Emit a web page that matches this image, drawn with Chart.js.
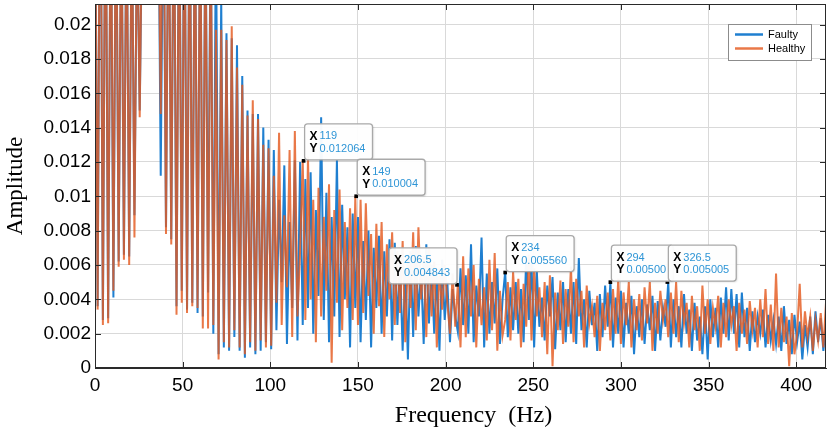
<!DOCTYPE html>
<html>
<head>
<meta charset="utf-8">
<script src="https://cdn.jsdelivr.net/npm/chart.js@4.4.0/dist/chart.umd.min.js"></script>
<style>
  html, body { margin: 0; padding: 0; background: #fff; }
  canvas { display: block; }
</style>
</head>
<body>
<canvas id="spectrumChart" width="832" height="430"></canvas>
<script>
// spacing of the spectrum bins (Hz)
const freqStep = 1.5;

// amplitude, one value per bin (0, 1.5, 3 ... 418.5 Hz)
const faulty = [
  0.031, 0.0036, 0.034, 0.0028, 0.031, 0.0029, 0.029, 0.0041, 0.029, 0.0062,
  0.028, 0.0066, 0.028, 0.0065, 0.027, 0.0089, 0.026, 0.0150, 0.027, 0.032,
  0.030, 0.034, 0.031, 0.033, 0.030, 0.0112, 0.029, 0.0082, 0.030, 0.0075,
  0.029, 0.0036, 0.030, 0.0045, 0.029, 0.0034, 0.030, 0.0038, 0.028, 0.0032,
  0.028, 0.0030, 0.027, 0.0044, 0.027, 0.0020, 0.026, 0.0008, 0.0215, 0.0012,
  0.0195, 0.0010, 0.0192, 0.0018, 0.0188, 0.0010, 0.0170, 0.0006, 0.0150, 0.0012,
  0.0148, 0.0008, 0.0148, 0.0010, 0.0140, 0.0015, 0.0133, 0.0011, 0.0127, 0.0022,
  0.0098, 0.0050, 0.0118, 0.0014, 0.0085, 0.0035, 0.0121, 0.0016, 0.0120, 0.0025,
  0.0110, 0.0035, 0.0114, 0.0020, 0.0092, 0.0042, 0.0146, 0.0028, 0.0102, 0.0015,
  0.0088, 0.0030, 0.0121, 0.0018, 0.0095, 0.0040, 0.0082, 0.0012, 0.0090, 0.0035,
  0.0088, 0.0015, 0.0074, 0.0028, 0.0080, 0.0012, 0.0070, 0.0035, 0.0077, 0.0020,
  0.0068, 0.0030, 0.0075, 0.0016, 0.0073, 0.0025, 0.0062, 0.0010, 0.0058, 0.0005,
  0.0068, 0.0018, 0.0071, 0.0030, 0.0058, 0.0014, 0.0072, 0.0026, 0.0060, 0.0020,
  0.0055, 0.0010, 0.0063, 0.0028, 0.0050, 0.0015, 0.0046, 0.0030, 0.0021, 0.0058,
  0.0025, 0.0054, 0.0020, 0.0072, 0.0015, 0.0048, 0.0030, 0.0076, 0.0012, 0.0055,
  0.0020, 0.0050, 0.0026, 0.0058, 0.0014, 0.0040, 0.0056, 0.0018, 0.0047, 0.0022,
  0.0050, 0.0020, 0.0046, 0.0015, 0.0065, 0.0028, 0.0061, 0.0012, 0.0057, 0.0024,
  0.0041, 0.0016, 0.0048, 0.0030, 0.0053, 0.0011, 0.0044, 0.0022, 0.0050, 0.0015,
  0.0046, 0.0020, 0.0050, 0.0014, 0.0064, 0.0022, 0.0040, 0.0012, 0.0045, 0.0025,
  0.0038, 0.0010, 0.0043, 0.0018, 0.0048, 0.0024, 0.0050, 0.0012, 0.0041, 0.0020,
  0.0045, 0.0012, 0.0038, 0.0020, 0.0042, 0.0008, 0.0036, 0.0018, 0.0040, 0.0014,
  0.0037, 0.0022, 0.0042, 0.0010, 0.0039, 0.0016, 0.0035, 0.0024, 0.0050, 0.0012,
  0.0040, 0.0018, 0.0036, 0.0012, 0.0043, 0.0020, 0.0034, 0.0010, 0.0038, 0.0016,
  0.0030, 0.0008, 0.0036, 0.0005, 0.0040, 0.0018, 0.0035, 0.0012, 0.0041, 0.0020,
  0.0047, 0.0016, 0.0046, 0.0020, 0.0043, 0.0012, 0.0044, 0.0018, 0.0035, 0.0010,
  0.0033, 0.0015, 0.0030, 0.0020, 0.0034, 0.0012, 0.0031, 0.0016, 0.0028, 0.0014,
  0.0030, 0.0010, 0.0036, 0.0014, 0.0028, 0.0008, 0.0031, 0.0015, 0.0027, 0.0005,
  0.0025, 0.0012, 0.0030, 0.0008, 0.0033, 0.0015, 0.0029, 0.0010, 0.0026, 0.0018
];

const healthy = [
  0.030, 0.0034, 0.035, 0.0025, 0.032, 0.0026, 0.030, 0.0045, 0.030, 0.0059,
  0.029, 0.0063, 0.028, 0.0060, 0.028, 0.0076, 0.027, 0.0146, 0.028, 0.033,
  0.030, 0.036, 0.031, 0.034, 0.029, 0.0148, 0.032, 0.0078, 0.030, 0.0072,
  0.031, 0.0031, 0.029, 0.0038, 0.030, 0.0032, 0.029, 0.0036, 0.028, 0.0035,
  0.028, 0.0023, 0.027, 0.0023, 0.026, 0.0025, 0.0197, 0.0005, 0.0197, 0.0015,
  0.0191, 0.0012, 0.0199, 0.0022, 0.0175, 0.0012, 0.0165, 0.0008, 0.0147, 0.0015,
  0.0156, 0.0010, 0.0145, 0.0016, 0.0130, 0.0012, 0.0128, 0.0013, 0.0112, 0.0038,
  0.0137, 0.0025, 0.0089, 0.0047, 0.0127, 0.0018, 0.0138, 0.0030, 0.0068, 0.0121,
  0.0028, 0.0123, 0.0040, 0.0098, 0.0015, 0.0105, 0.0030, 0.0088, 0.0045, 0.0107,
  0.0003, 0.0092, 0.0038, 0.0104, 0.0022, 0.0085, 0.0035, 0.0093, 0.0028, 0.0100,
  0.0025, 0.0098, 0.0032, 0.0096, 0.0042, 0.0078, 0.0020, 0.0084, 0.0036, 0.0085,
  0.0018, 0.0072, 0.0040, 0.0079, 0.0025, 0.0068, 0.0032, 0.0074, 0.0015, 0.0066,
  0.0035, 0.0079, 0.0022, 0.0082, 0.0040, 0.0065, 0.0018, 0.0070, 0.0030, 0.0062,
  0.0012, 0.0058, 0.0034, 0.0060, 0.0038, 0.0020, 0.0055, 0.0024, 0.0049, 0.0012,
  0.0065, 0.0018, 0.0058, 0.0030, 0.0060, 0.0012, 0.0052, 0.0025, 0.0047, 0.0016,
  0.0063, 0.0022, 0.0067, 0.0010, 0.0045, 0.0019, 0.0028, 0.0050, 0.0016, 0.0056,
  0.0028, 0.0052, 0.0012, 0.0049, 0.0024, 0.0066, 0.0016, 0.0058, 0.0030, 0.0047,
  0.0018, 0.0050, 0.0008, 0.0054, 0.0001, 0.0044, 0.0022, 0.0051, 0.0014, 0.0046,
  0.0024, 0.0059, 0.0015, 0.0052, 0.0030, 0.0045, 0.0012, 0.0048, 0.0026, 0.0036,
  0.0018, 0.0042, 0.0010, 0.0038, 0.0022, 0.0044, 0.0016, 0.0046, 0.0020, 0.0052,
  0.0014, 0.0044, 0.0025, 0.0050, 0.0012, 0.0040, 0.0022, 0.0043, 0.0016, 0.0047,
  0.0026, 0.0050, 0.0010, 0.0038, 0.0020, 0.0045, 0.0028, 0.0040, 0.0018, 0.0044,
  0.0020, 0.0050, 0.0015, 0.0045, 0.0026, 0.0038, 0.0012, 0.0042, 0.0022, 0.0036,
  0.0010, 0.0048, 0.0020, 0.0040, 0.0014, 0.0035, 0.0024, 0.0042, 0.0012, 0.0038,
  0.0018, 0.0040, 0.0025, 0.0036, 0.0010, 0.0038, 0.0020, 0.0034, 0.0014, 0.0039,
  0.0022, 0.0035, 0.0012, 0.0040, 0.0018, 0.0046, 0.0014, 0.0037, 0.0010, 0.0055,
  0.0012, 0.0035, 0.0015, 0.0030, 0.0001, 0.0032, 0.0008, 0.0020, 0.0049, 0.0012,
  0.0033, 0.0018, 0.0030, 0.0010, 0.0028, 0.0016, 0.0032, 0.0012, 0.0038, 0.0020
];

const xTickValues = [0, 50, 100, 150, 200, 250, 300, 350, 400];
const yTickValues = [0, 0.002, 0.004, 0.006, 0.008, 0.01, 0.012, 0.014, 0.016, 0.018, 0.02];
const yTickLabels = ['0', '0.002', '0.004', '0.006', '0.008', '0.01', '0.012', '0.014', '0.016', '0.018', '0.02'];

// data tips
const tipFreq = [119, 149, 206.5, 234, 294, 326.5];
const tipAmp = [0.012064, 0.010004, 0.004843, 0.005560, 0.00500, 0.005005];
const tipXText = ['119', '149', '206.5', '234', '294', '326.5'];
const tipYText = ['0.012064', '0.010004', '0.004843', '0.005560', '0.00500', '0.005005'];

const freq = healthy.map((_, i) => i * freqStep);

const BLUE = '#1f7fd0';
const ORANGE = 'rgba(228, 90, 32, 0.82)';

// inward tick marks and the box round the plot
const frameTicks = {
    id: 'frameTicks',
    afterDatasetsDraw(chart) {
        const { ctx, chartArea: a, scales: { x, y } } = chart;
        ctx.save();
        ctx.strokeStyle = '#2a2a2a';
        ctx.lineWidth = 1;
        ctx.strokeRect(a.left + 0.5, a.top + 0.5, a.right - a.left - 1, a.bottom - a.top - 1);
        ctx.beginPath();
        xTickValues.forEach(v => {
            const px = Math.round(x.getPixelForValue(v)) + 0.5;
            ctx.moveTo(px, a.bottom); ctx.lineTo(px, a.bottom - 6);
            ctx.moveTo(px, a.top); ctx.lineTo(px, a.top + 6);
        });
        yTickValues.forEach(v => {
            const py = Math.round(y.getPixelForValue(v)) + 0.5;
            ctx.moveTo(a.left, py); ctx.lineTo(a.left + 6, py);
            ctx.moveTo(a.right, py); ctx.lineTo(a.right - 6, py);
        });
        ctx.stroke();
        ctx.restore();
    }
};

// boxes next to the data tip markers
const dataTips = {
    id: 'dataTips',
    afterDraw(chart, args, opts) {
        const { ctx, scales: { x, y } } = chart;
        ctx.save();
        tipFreq.forEach((f, i) => {
            const px = x.getPixelForValue(f);
            const py = y.getPixelForValue(tipAmp[i]);
            ctx.font = '11px "Liberation Sans", Arial, sans-serif';
            const w = Math.max(ctx.measureText(tipXText[i]).width, ctx.measureText(tipYText[i]).width) + 22;
            const h = 36;
            const left = opts.leftSide.includes(i) ? px - w : px + 1;
            const top = py - 1 - h;

            ctx.shadowColor = 'rgba(0,0,0,0.18)';
            ctx.shadowBlur = 2;
            ctx.shadowOffsetX = 1;
            ctx.shadowOffsetY = 1;
            ctx.fillStyle = 'rgba(255,255,255,0.96)';
            ctx.beginPath();
            ctx.roundRect(left, top, w, h, 3);
            ctx.fill();
            ctx.shadowColor = 'transparent';
            ctx.strokeStyle = '#a9a9a9';
            ctx.lineWidth = 1.3;
            ctx.stroke();

            ctx.textBaseline = 'middle';
            ctx.textAlign = 'left';
            ctx.fillStyle = '#000';
            ctx.font = 'bold 12px "Liberation Sans", Arial, sans-serif';
            ctx.fillText('X', left + 5, top + 12.5);
            ctx.fillText('Y', left + 5, top + 25);
            ctx.fillStyle = '#2e95d6';
            ctx.font = '11px "Liberation Sans", Arial, sans-serif';
            ctx.fillText(tipXText[i], left + 15, top + 12.5);
            ctx.fillText(tipYText[i], left + 15, top + 25);
        });
        ctx.restore();
    }
};

// legend box in the upper right corner of the plot
const cornerLegend = {
    id: 'cornerLegend',
    afterDraw(chart) {
        const { ctx, chartArea: a } = chart;
        const items = chart.data.datasets.filter(d => d.inLegend);
        const w = 83, h = 36;
        const left = a.right - 15 - w, top = a.top + 20;
        ctx.save();
        ctx.fillStyle = '#fff';
        ctx.fillRect(left, top, w, h);
        ctx.strokeStyle = '#8c8c8c';
        ctx.lineWidth = 1;
        ctx.strokeRect(left + 0.5, top + 0.5, w, h);
        ctx.font = '11px "Liberation Sans", Arial, sans-serif';
        ctx.textBaseline = 'middle';
        items.forEach((d, i) => {
            const ly = top + 10.5 + i * 14;
            ctx.strokeStyle = d.borderColor;
            ctx.lineWidth = 2.5;
            ctx.beginPath();
            ctx.moveTo(left + 7, ly);
            ctx.lineTo(left + 35, ly);
            ctx.stroke();
            ctx.fillStyle = '#000';
            ctx.fillText(d.label, left + 40, ly);
        });
        ctx.restore();
    }
};

// x axis title, a little right of the plot centre as in the figure
const xTitle = {
    id: 'xTitle',
    afterDraw(chart, args, opts) {
        const { ctx, chartArea: a } = chart;
        ctx.save();
        ctx.font = '24px "Liberation Serif", "Times New Roman", serif';
        ctx.fillStyle = '#000';
        ctx.textAlign = 'center';
        ctx.textBaseline = 'alphabetic';
        ctx.fillText(opts.text, (a.left + a.right) / 2 + 13, 422);
        ctx.restore();
    }
};

const ctx = document.getElementById('spectrumChart').getContext('2d');

new Chart(ctx, {
    type: 'line',
    data: {
        datasets: [
            {
                label: 'Faulty',
                inLegend: true,
                data: freq.map((f, i) => ({ x: f, y: faulty[i] })),
                borderColor: BLUE,
                borderWidth: 2,
                pointRadius: 0,
                tension: 0,
                order: 2
            },
            {
                label: 'Healthy',
                inLegend: true,
                data: freq.map((f, i) => ({ x: f, y: healthy[i] })),
                borderColor: ORANGE,
                borderWidth: 2,
                pointRadius: 0,
                tension: 0,
                order: 1
            },
            {
                type: 'scatter',
                label: 'tips',
                data: tipFreq.map((f, i) => ({ x: f, y: tipAmp[i] })),
                pointStyle: 'rect',
                pointRadius: 2.6,
                backgroundColor: '#000',
                borderWidth: 0,
                order: 0
            }
        ]
    },
    options: {
        responsive: false,
        animation: false,
        events: [],
        layout: { padding: { left: 0, right: 6, top: 3, bottom: 0 } },
        scales: {
            x: {
                type: 'linear',
                min: 0,
                max: 417,
                afterBuildTicks: s => { s.ticks = xTickValues.map(v => ({ value: v })); },
                afterFit: s => { s.height = 62; s.paddingLeft = 0; s.paddingRight = 0; },
                grid: { color: '#d9d9d9', drawTicks: false },
                border: { color: '#2a2a2a' },
                ticks: {
                    padding: 6,
                    color: '#000',
                    maxRotation: 0,
                    font: { family: '"Liberation Sans", Arial, sans-serif', size: 19 }
                }
            },
            y: {
                min: 0,
                max: 0.0212,
                afterBuildTicks: s => { s.ticks = yTickValues.map(v => ({ value: v })); },
                afterFit: s => { s.width = 95; s.paddingTop = 0; s.paddingBottom = 0; },
                grid: { color: '#d9d9d9', drawTicks: false },
                border: { color: '#2a2a2a' },
                ticks: {
                    padding: 4,
                    color: '#000',
                    font: { family: '"Liberation Sans", Arial, sans-serif', size: 19 },
                    callback: (value, index) => yTickLabels[index]
                },
                title: {
                    display: true,
                    text: 'Amplitude',
                    color: '#000',
                    padding: { top: 2, bottom: 0 },
                    font: { family: '"Liberation Serif", "Times New Roman", serif', size: 23 }
                }
            }
        },
        plugins: {
            legend: { display: false },
            tooltip: { enabled: false },
            dataTips: { leftSide: [2] },
            xTitle: { text: 'Frequency  (Hz)' }
        }
    },
    plugins: [frameTicks, dataTips, cornerLegend, xTitle]
});
</script>
</body>
</html>
